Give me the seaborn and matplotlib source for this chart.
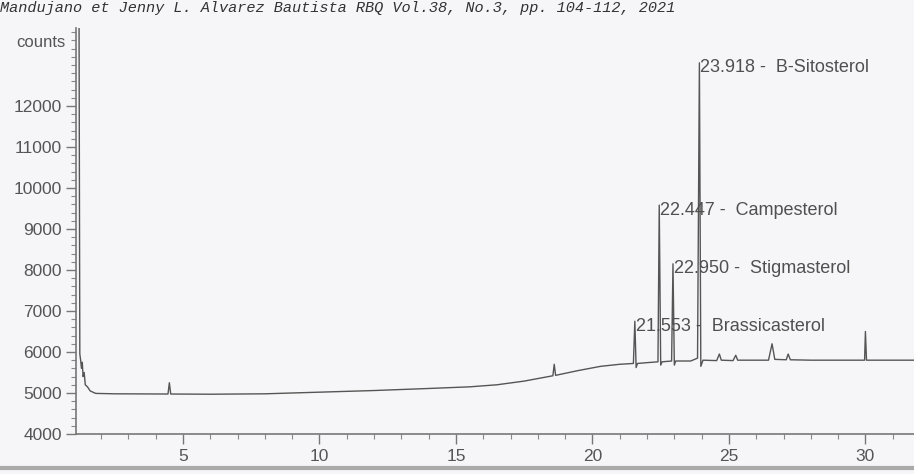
import numpy as np
import pandas as pd
import matplotlib
matplotlib.use("Agg")
import matplotlib.pyplot as plt
import seaborn as sns
from matplotlib.ticker import MultipleLocator
from matplotlib.lines import Line2D

# ---- data ----
time_min = [1.14, 1.19, 1.22, 1.25, 1.28, 1.31, 1.34, 1.38, 1.42, 1.50, 1.60,
            1.80, 2.50, 4.45, 4.50, 4.55, 6.00, 8.00, 10.00, 12.00, 14.00, 15.50,
            16.50, 17.50, 18.55, 18.60, 18.65, 19.50, 20.30, 21.00, 21.50, 21.553,
            21.60, 21.65, 22.00, 22.40, 22.447, 22.50, 22.55, 22.90, 22.950, 23.00,
            23.05, 23.60, 23.85, 23.918, 23.97, 24.05, 24.55, 24.65, 24.72, 25.15,
            25.25, 25.32, 26.45, 26.58, 26.68, 27.10, 27.17, 27.25, 28.00, 29.97, 30.00,
            30.04, 31.80]
counts = [14500, 14500, 5950, 5800, 5600, 5750, 5400, 5500, 5200, 5150, 5050,
          4990, 4980, 4975, 5250, 4975, 4970, 4980, 5020, 5060, 5110, 5150,
          5200, 5290, 5420, 5700, 5430, 5550, 5650, 5700, 5720, 6750,
          5620, 5720, 5740, 5760, 9580, 5680, 5760, 5780, 8150, 5680,
          5780, 5780, 5850, 13050, 5650, 5800, 5790, 5950, 5800, 5790,
          5920, 5800, 5800, 6200, 5820, 5810, 5950, 5810, 5800, 5800, 6500,
          5800, 5800]

peak_rt = [21.553, 22.447, 22.950, 23.918]
peak_height = [6750, 9580, 8150, 13050]
peak_names = ["Brassicasterol", "Campesterol", "Stigmasterol", "B-Sitosterol"]

x_ticks = [5, 10, 15, 20, 25, 30]
y_ticks = [4000, 5000, 6000, 7000, 8000, 9000, 10000, 11000, 12000]
header = "Mandujano et Jenny L. Alvarez Bautista RBQ Vol.38, No.3, pp. 104-112, 2021"

df = pd.DataFrame({"time": time_min, "counts": counts})

sns.set_style("white")
plt.rcParams["font.family"] = ["Liberation Sans", "DejaVu Sans"]

bg = "#f6f6f8"
fig = plt.figure(figsize=(9.14, 4.74), dpi=100, facecolor=bg)
ax = fig.add_axes([76 / 914, 40 / 474, 1 - 76 / 914, (434 - 28) / 474])
ax.set_facecolor(bg)

sns.lineplot(data=df, x="time", y="counts", ax=ax, color="#555555",
             linewidth=1.0, estimator=None, sort=False)

ax.set_xlim(1.08, 31.78)
ax.set_ylim(4000, 13900)
ax.set_xlabel("")
ax.set_ylabel("")

ax.set_xticks(x_ticks)
ax.set_yticks(y_ticks)
ax.xaxis.set_minor_locator(MultipleLocator(1))
ax.yaxis.set_minor_locator(MultipleLocator(200))
for s in ["top", "right"]:
    ax.spines[s].set_visible(False)
for s in ["left", "bottom"]:
    ax.spines[s].set_color("#777777")
    ax.spines[s].set_linewidth(1.2)
ax.tick_params(axis="both", which="both", bottom=True, left=True)
ax.tick_params(axis="both", which="major", direction="out", length=7,
               width=1, color="#777777", labelsize=12.5, labelcolor="#555555")
ax.tick_params(axis="both", which="minor", direction="out", length=3.5,
               width=0.8, color="#888888")
ax.tick_params(axis="x", pad=4)
ax.tick_params(axis="y", pad=3)

ax.text(-0.012, 13550, "counts", transform=ax.get_yaxis_transform(),
        ha="right", va="center", fontsize=12, color="#555555")

for rt, h, name in zip(peak_rt, peak_height, peak_names):
    ax.text(rt + 0.04, h - 120, f"{rt:.3f} -  {name}", ha="left", va="center",
            fontsize=13, color="#505050")

fig.text(0.0, 1 - 12 / 474, header, family=["Liberation Mono", "DejaVu Sans Mono"],
         style="italic", fontsize=11, color="#333333", ha="left", va="baseline")

fig.add_artist(Line2D([0, 1], [1 - 468 / 474, 1 - 468 / 474],
                      transform=fig.transFigure, color="#aaaaaa", linewidth=3))

fig.savefig("out.png", dpi=100, facecolor=bg)
